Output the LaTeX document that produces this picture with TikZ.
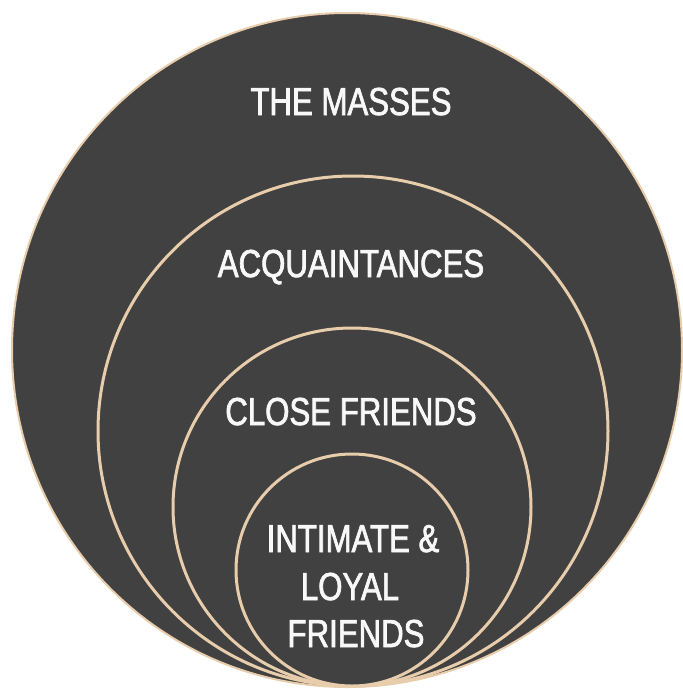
\documentclass[tikz,border=0pt]{standalone}
\usepackage{fontspec}
\setmainfont{Liberation Sans}[FakeStretch=0.8,FakeBold=1.8]
\definecolor{ringfill}{RGB}{65,65,65}
\definecolor{ringline}{RGB}{232,205,172}
\definecolor{labeltext}{RGB}{248,248,248}
\tikzset{
  ring/.style={draw=ringline, line width=3pt, fill=ringfill},
  outerring/.style={draw=ringline, line width=2pt, fill=ringfill},
  lbl/.style={text=labeltext, inner sep=0pt, anchor=base, font=\fontsize{39}{47}\selectfont}
}
\begin{document}
\begin{tikzpicture}[x=1pt,y=-1pt]
\useasboundingbox (0,0) rectangle (683,689);
\fill[white] (0,0) rectangle (683,689);
\draw[outerring] (347,350) ellipse [x radius=335pt, y radius=337pt];
\draw[ring] (353,431) circle [radius=255pt];
\draw[ring] (352,507) circle [radius=179pt];
\draw[ring] (352,570) circle [radius=116pt];
\node[lbl] (masses) at (351,115) {THE MASSES};
\node[lbl] (acq) at (351,277) {ACQUAINTANCES};
\node[lbl] (close) at (351,425) {CLOSE FRIENDS};
\node[lbl] (intimateA) at (353,552) {INTIMATE \&};
\node[lbl] (intimateB) at (350,600) {LOYAL};
\node[lbl] (intimateC) at (356,647) {FRIENDS};
\end{tikzpicture}
\end{document}
